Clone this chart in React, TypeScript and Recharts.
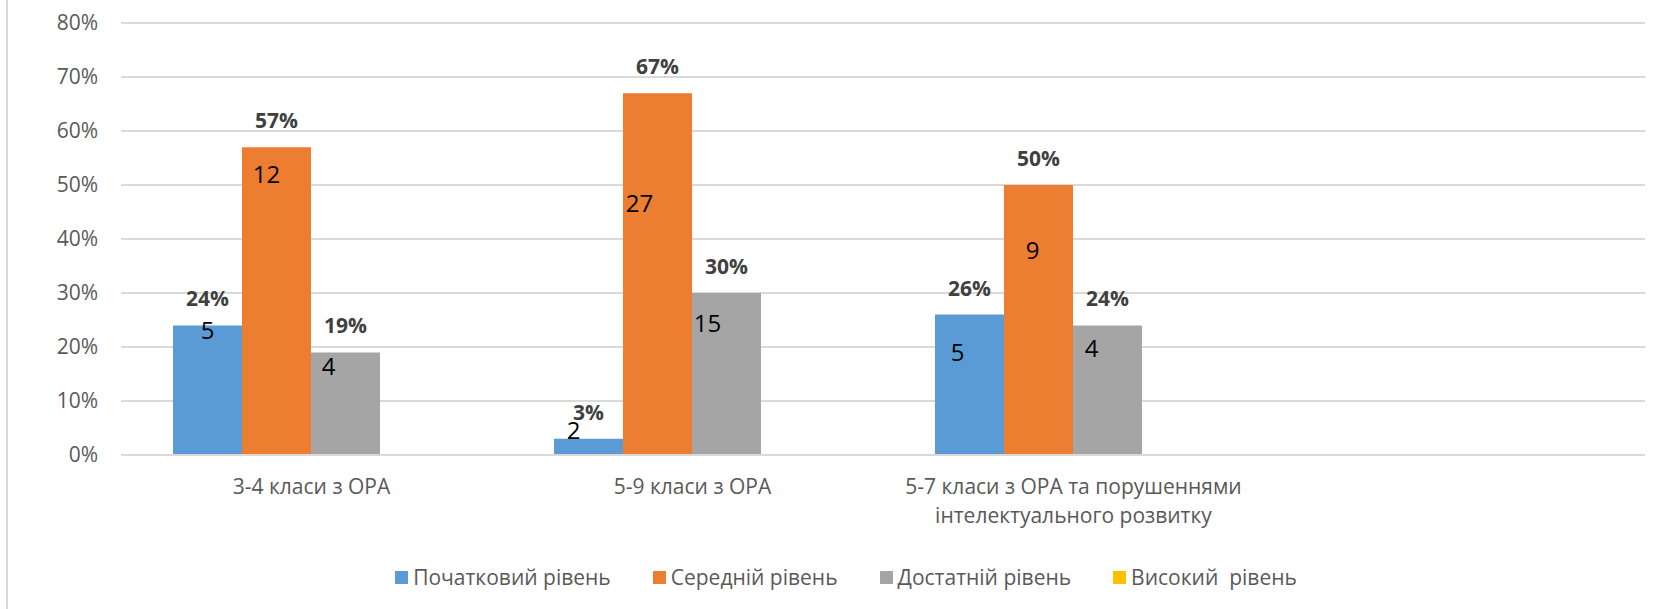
import React from 'react';
import { BarChart, Bar, XAxis, YAxis, CartesianGrid, LabelList, Text } from 'recharts';

const FONT = '"Open Sans", "Noto Sans", sans-serif';

const categories = [
  '3-4 класи з ОРА',
  '5-9 класи з ОРА',
  '5-7 класи з ОРА та порушеннями інтелектуального розвитку',
  '',
];
const levels = ['Початковий рівень', 'Середній рівень', 'Достатній рівень', 'Високий  рівень'];
const levelColors = ['#5B9BD5', '#ED7D31', '#A5A5A5', '#FFC000'];
const yTicks = [0, 10, 20, 30, 40, 50, 60, 70, 80];

// percent of pupils per level
const initialPct = [24, 3, 26, null];
const middlePct = [57, 67, 50, null];
const sufficientPct = [19, 30, 24, null];
const highPct = [0, 0, 0, null];

// number of pupils per level
const initialCount = [5, 2, 5, null];
const middleCount = [12, 27, 9, null];
const sufficientCount = [4, 15, 4, null];
const highCount = [null, null, null, null];

const pctSeries = [initialPct, middlePct, sufficientPct, highPct];
const countSeries = [initialCount, middleCount, sufficientCount, highCount];

// count labels were dragged by hand in the original: [dx from bar centre, baseline below bar top]
const countNudge = [
  [[0, 14], [-15, 0], [-12, 46]],
  [[-10, 36], [-18, 119], [-6, 74]],
  [[-17, 23], [-19, 39], [-16, 32]],
  [[0, 0], [0, 0], [0, 0]],
];

const data = categories.map((name, i) => {
  const row: any = { name };
  levels.forEach((_, s) => {
    row[`p${s}`] = pctSeries[s][i];
    row[`c${s}`] = countSeries[s][i];
  });
  return row;
});

const PctLabel = (props: any) => {
  const { x, y, width, value } = props;
  if (value == null || value === 0) return null;
  return (
    <text
      x={Number(x) + Number(width) / 2}
      y={Number(y) - 19}
      textAnchor="middle"
      fontSize={21}
      fontWeight="bold"
      fontFamily={FONT}
      fill="#404040"
    >
      {value}%
    </text>
  );
};

const makeCountLabel = (s: number) => (props: any) => {
  const { x, y, width, value, index } = props;
  if (value == null) return null;
  const [dx, dy] = countNudge[s][index] || [0, 20];
  return (
    <text
      x={Number(x) + Number(width) / 2 + dx}
      y={Number(y) + dy}
      textAnchor="middle"
      fontSize={24}
      fontFamily={FONT}
      fill="#000000"
    >
      {value}
    </text>
  );
};

const CategoryTick = (props: any) => {
  const { x, y, payload } = props;
  if (!payload.value) return null;
  return (
    <Text
      x={x}
      y={y + 24}
      width={381}
      textAnchor="middle"
      verticalAnchor="start"
      lineHeight={29}
      fontSize={21}
      fontFamily={FONT}
      fill="#595959"
      style={{ fontSize: 21, fontFamily: FONT }}
    >
      {payload.value}
    </Text>
  );
};

const App: React.FC = () => {
  return (
    <div style={{ position: 'absolute', left: 0, top: 0, width: 1661, height: 609, background: '#fff', fontFamily: FONT }}>
      <div style={{ position: 'absolute', left: 6, top: 0, width: 2, height: 609, background: '#d9d9d9' }} />
      <BarChart
        width={1661}
        height={609}
        data={data}
        margin={{ top: 23, right: 16, left: 0, bottom: 94 }}
        barGap={0}
        barCategoryGap={52}
      >
        <CartesianGrid vertical={false} stroke="#d9d9d9" strokeWidth={2} />
        <XAxis
          dataKey="name"
          height={60}
          interval={0}
          tickLine={false}
          tickSize={0}
          tickMargin={0}
          axisLine={{ stroke: '#d9d9d9', strokeWidth: 2 }}
          tick={<CategoryTick />}
        />
        <YAxis
          width={121}
          domain={[0, 80]}
          ticks={yTicks}
          tickFormatter={(v: number) => `${v}%`}
          axisLine={false}
          tickLine={false}
          tickSize={0}
          tickMargin={23}
          tick={{ fontSize: 21, fill: '#595959', fontFamily: FONT }}
        />
        {levels.map((level, s) => (
          <Bar key={level} dataKey={`p${s}`} name={level} fill={levelColors[s]} isAnimationActive={false}>
            <LabelList dataKey={`p${s}`} content={PctLabel} />
            <LabelList dataKey={`c${s}`} content={makeCountLabel(s)} />
          </Bar>
        ))}
      </BarChart>
      <div
        style={{
          position: 'absolute',
          left: 30,
          top: 567,
          width: 1632,
          height: 20,
          display: 'flex',
          justifyContent: 'center',
          alignItems: 'center',
        }}
      >
        {levels.map((level, s) => (
          <div
            key={level}
            style={{ display: 'flex', alignItems: 'center', marginRight: s < levels.length - 1 ? 42 : 0 }}
          >
            <span style={{ display: 'inline-block', width: 13, height: 13, background: levelColors[s], marginRight: 5 }} />
            <span style={{ fontSize: 21, lineHeight: '20px', color: '#595959', whiteSpace: 'pre' }}>{level}</span>
          </div>
        ))}
      </div>
    </div>
  );
};

export default App;
